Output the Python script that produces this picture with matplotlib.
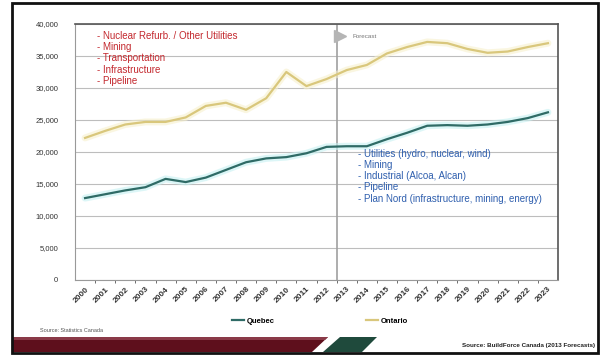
import matplotlib
matplotlib.use('Agg')
import matplotlib.pyplot as plt
from matplotlib.patches import Polygon, Rectangle
import numpy as np

plt.rcParams['font.family'] = ['Liberation Sans', 'DejaVu Sans']

# data
years = [str(y) for y in range(2000, 2024)]
quebec = [12800, 13400, 14000, 14500, 15800, 15300, 16000, 17200, 18400, 19000,
          19200, 19800, 20800, 20900, 20900, 22000, 23000, 24100, 24200, 24100,
          24300, 24700, 25300, 26200]
ontario = [22200, 23300, 24300, 24700, 24700, 25400, 27200, 27700, 26600, 28400,
           32500, 30300, 31400, 32800, 33600, 35400, 36400, 37200, 37000, 36100,
           35500, 35700, 36400, 37000]
yticks = [0, 5000, 10000, 15000, 20000, 25000, 30000, 35000, 40000]
forecast_start = 13

ontario_notes = ['- Nuclear Refurb. / Other Utilities', '- Mining', '- Transportation',
                 '- Infrastructure', '- Pipeline']
quebec_notes = ['- Utilities (hydro, nuclear, wind)', '- Mining',
                '- Industrial (Alcoa, Alcan)', '- Pipeline',
                '- Plan Nord (infrastructure, mining, energy)']

W, H = 608, 355
fig = plt.figure(figsize=(W / 100, H / 100), dpi=100, facecolor='w')


def fx(px):
    return px / W


def fy(py):
    return 1 - py / H


ax = fig.add_axes([fx(75), fy(280), (558 - 75) / W, (280 - 24) / H])
x = np.arange(len(years))

# glow under the lines
ax.plot(x, quebec, color='#c6f1f2', lw=5, alpha=0.6, solid_capstyle='round', zorder=2)
ax.plot(x, ontario, color='#f7f0cc', lw=5, alpha=0.6, solid_capstyle='round', zorder=2)
l1, = ax.plot(x, quebec, color='#2f6b66', lw=1.6, zorder=3, label='Quebec')
l2, = ax.plot(x, ontario, color='#d9c77c', lw=1.6, zorder=3, label='Ontario')

ax.set_xlim(-0.5, len(years) - 0.5)
ax.set_ylim(0, 40000)
ax.set_yticks(yticks)
ax.set_yticklabels([f'{v:,}' for v in yticks], fontsize=5.5, color='#333333')
ax.grid(axis='y', color='#bdbdbd', lw=0.8)
ax.set_axisbelow(True)

ax.set_xticks(x)
ax.set_xticklabels(years, rotation=45, ha='right', va='top', fontsize=6,
                   fontweight='bold', color='#333333', rotation_mode='anchor')
ax.tick_params(axis='x', length=0, pad=4)
ax.set_xticks(x[:-1] + 0.5, minor=True)
ax.tick_params(axis='x', which='minor', length=2, color='#555555')
ax.tick_params(axis='y', length=0, pad=12)

for s in ['top', 'right']:
    ax.spines[s].set_color('#555555')
    ax.spines[s].set_linewidth(1.2)
ax.spines['left'].set_color('#999999')
ax.spines['bottom'].set_color('#999999')

# forecast divider
ax.axvline(forecast_start - 0.5, color='#a0a0a0', lw=1.2, zorder=1)
ax.plot([forecast_start - 0.35], [38100], marker='>', ms=9, color='#b5b5b5', zorder=4)
ax.text(forecast_start + 0.3, 38100, 'Forecast', fontsize=4.5, color='#777777', va='center')

ax.text(0.6, 38900, '\n'.join(ontario_notes), fontsize=7, color='#c3282e',
        va='top', ha='left', linespacing=1.15)
ax.text(forecast_start + 0.55, 20500, '\n'.join(quebec_notes), fontsize=7,
        color='#2f5fae', va='top', ha='left', linespacing=1.15)

fig.legend(handles=[l1, l2], loc='center', bbox_to_anchor=(fx(320), fy(321)), ncol=2,
           frameon=False, handlelength=1.6, handletextpad=0.3,
           columnspacing=12, prop={'weight': 'bold', 'size': 5.5})

fig.text(fx(40), fy(331), 'Source: Statistics Canada', fontsize=4, color='#555555', va='center')

# bottom banner
fig.patches.append(Polygon([(fx(13), fy(352)), (fx(13), fy(337)), (fx(328), fy(337)),
                            (fx(312), fy(352))], closed=True, transform=fig.transFigure,
                           facecolor='#5e0f1c', edgecolor='none'))
fig.patches.append(Polygon([(fx(13), fy(340)), (fx(13), fy(337)), (fx(328), fy(337)),
                            (fx(325), fy(340))], closed=True, transform=fig.transFigure,
                           facecolor='#8a3a48', edgecolor='none'))
fig.patches.append(Polygon([(fx(323), fy(352)), (fx(340), fy(337)), (fx(377), fy(337)),
                            (fx(362), fy(352))], closed=True, transform=fig.transFigure,
                           facecolor='#1f4a3c', edgecolor='none'))
fig.text(fx(595), fy(346), 'Source: BuildForce Canada (2013 Forecasts)', fontsize=4.5,
         fontweight='bold', color='#222222', ha='right', va='center')

# slide frame
fig.patches.append(Rectangle((fx(12), fy(353)), (598 - 12) / W, (353 - 3) / H,
                             transform=fig.transFigure, fill=False, edgecolor='#111111', lw=2))

fig.savefig('out.png', dpi=100, facecolor='w')
